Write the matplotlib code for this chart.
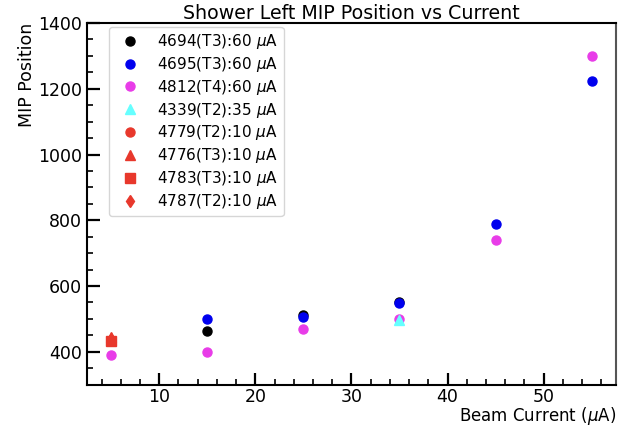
import numpy as np
import matplotlib.pyplot as plt
from matplotlib.ticker import MultipleLocator

# runs at 60 uA (scanned over beam current)
run4694_x = [15, 25, 35]
run4694_y = [463, 512, 552]
run4695_x = [15, 25, 35, 45, 55]
run4695_y = [500, 505, 548, 790, 1225]
run4812_x = [5, 15, 25, 35, 45, 55]
run4812_y = [391, 400, 470, 500, 740, 1300]
# single point runs
run4339 = (35, 497)
run4779 = (5, 432)
run4776 = (5, 445)
run4783 = (5, 432)
run4787 = (5, 440)

red = '#e8382c'

plt.rcParams['font.size'] = 12.5
fig = plt.figure(figsize=(6.27, 4.26), dpi=100)
ax = fig.add_axes([0.139, 0.097, 0.843, 0.849])

ms = 6.5
ax.plot(run4694_x, run4694_y, 'o', color='black', ms=ms, label=r'4694(T3):60 $\mu$A')
ax.plot(run4695_x, run4695_y, 'o', color='#0000ee', ms=ms, label=r'4695(T3):60 $\mu$A')
ax.plot(run4812_x, run4812_y, 'o', color='#e83ce8', ms=ms, label=r'4812(T4):60 $\mu$A')
ax.plot(*run4339, '^', color='#66ffff', ms=ms, label=r'4339(T2):35 $\mu$A')
ax.plot(*run4779, 'o', color=red, ms=ms, label=r'4779(T2):10 $\mu$A')
ax.plot(*run4776, '^', color=red, ms=ms, label=r'4776(T3):10 $\mu$A')
ax.plot(*run4783, 's', color=red, ms=ms, label=r'4783(T3):10 $\mu$A')
ax.plot(*run4787, 'd', color=red, ms=ms, label=r'4787(T2):10 $\mu$A')

ax.set_xlim(2.5, 57.5)
ax.set_ylim(300, 1400)
ax.xaxis.set_major_locator(MultipleLocator(10))
ax.xaxis.set_minor_locator(MultipleLocator(2))
ax.yaxis.set_major_locator(MultipleLocator(200))
ax.yaxis.set_minor_locator(MultipleLocator(50))
ax.tick_params(which='major', direction='in', length=9, width=1.6)
ax.tick_params(which='minor', direction='in', length=4.5, width=1.2)
ax.tick_params(axis='x', pad=2.5)
for s in ax.spines.values():
    s.set_linewidth(1.5)
ax.spines['right'].set_color('#555555')

ax.set_xlabel(r'Beam Current ($\mu$A)', loc='right', labelpad=-0.5, fontsize=12)
ax.set_ylabel('MIP Position', loc='top', labelpad=2)
ax.set_title('Shower Left MIP Position vs Current', pad=3, fontsize=13.7)
ax.legend(loc='upper left', bbox_to_anchor=(0.034, 1.0), borderaxespad=0.25,
          labelspacing=0.25, handletextpad=0.8, borderpad=0.35, fontsize=11)

plt.savefig('out.png', dpi=100)
